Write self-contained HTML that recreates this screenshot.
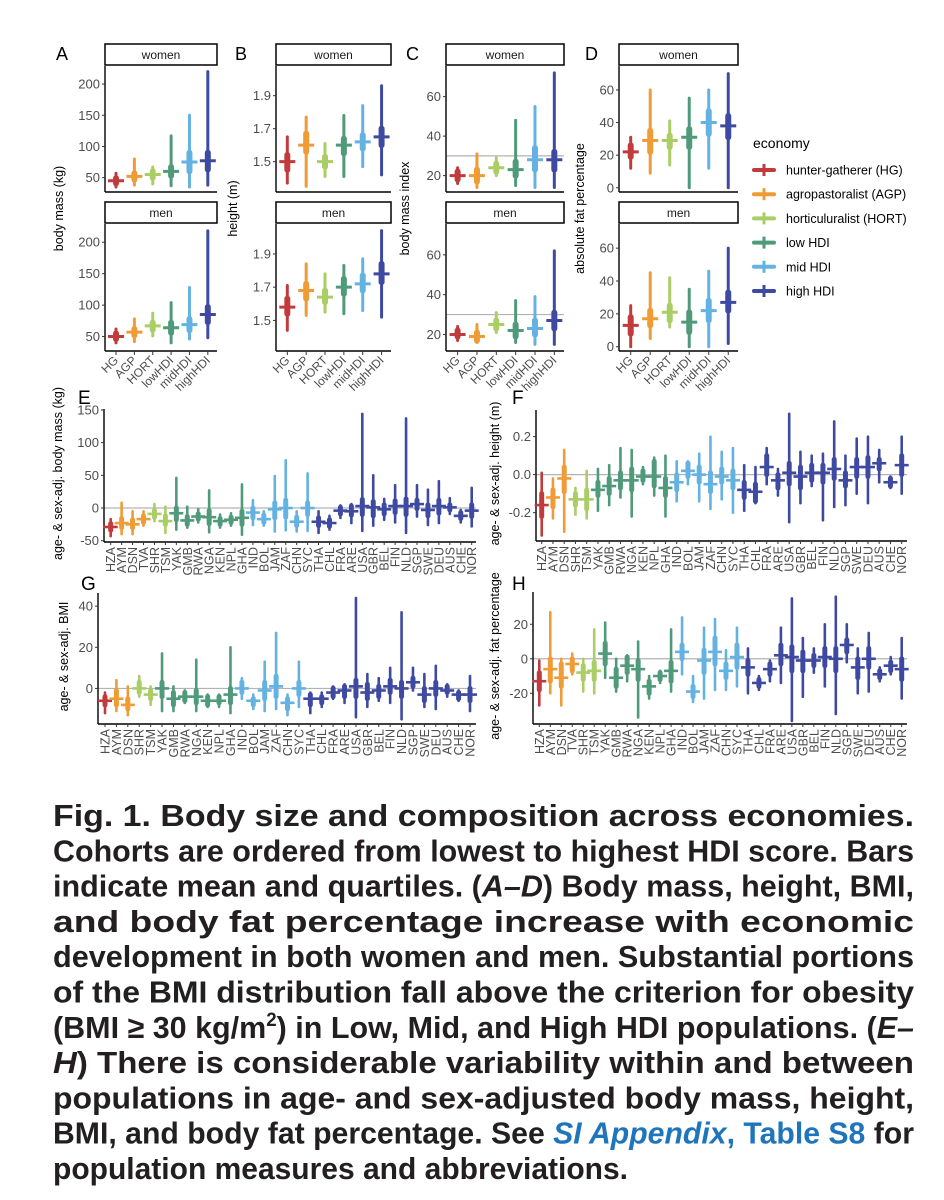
<!DOCTYPE html>
<html><head><meta charset="utf-8">
<style>
body{margin:0;background:#fff;width:944px;height:1200px;overflow:hidden;position:relative;font-family:"Liberation Sans",Arial,sans-serif;}
#fig{position:absolute;left:0;top:0;}
#caption{position:absolute;left:0;top:0;}
</style></head><body>
<svg id="fig" width="944" height="790" xmlns="http://www.w3.org/2000/svg"></svg>
<svg id="caption" width="944" height="1200" xmlns="http://www.w3.org/2000/svg" font-family="Liberation Sans, sans-serif" font-weight="bold" font-size="31" fill="#231f20">
<text x="53" y="826" textLength="861" lengthAdjust="spacingAndGlyphs">Fig. 1. Body size and composition across economies.</text>
<text x="53" y="861.3" textLength="861" lengthAdjust="spacingAndGlyphs">Cohorts are ordered from lowest to highest HDI score. Bars</text>
<text x="53" y="896.6" textLength="861" lengthAdjust="spacingAndGlyphs">indicate mean and quartiles. (<tspan font-style="italic">A–D</tspan>) Body mass, height, BMI,</text>
<text x="53" y="931.9" textLength="861" lengthAdjust="spacingAndGlyphs">and   body   fat   percentage   increase   with   economic</text>
<text x="53" y="967.2" textLength="861" lengthAdjust="spacingAndGlyphs">development in both women and men. Substantial portions</text>
<text x="53" y="1002.5" textLength="861" lengthAdjust="spacingAndGlyphs">of the BMI distribution fall above the criterion for obesity</text>
<text x="53" y="1037.8" textLength="861" lengthAdjust="spacingAndGlyphs">(BMI ≥ 30 kg/m<tspan font-size="19" dy="-12">2</tspan><tspan dy="12">) in Low, Mid, and High HDI populations. (</tspan><tspan font-style="italic">E–</tspan></text>
<text x="53" y="1073.1" textLength="861" lengthAdjust="spacingAndGlyphs"><tspan font-style="italic">H</tspan>) There  is  considerable  variability  within  and  between</text>
<text x="53" y="1108.4" textLength="861" lengthAdjust="spacingAndGlyphs">populations in age- and sex-adjusted body mass, height,</text>
<text x="53" y="1143.7" textLength="861" lengthAdjust="spacingAndGlyphs">BMI, and body fat percentage. See <tspan fill="#1f75bb" font-style="italic">SI Appendix</tspan><tspan fill="#1f75bb">, Table S8</tspan> for</text>
<text x="53" y="1179" textLength="575" lengthAdjust="spacingAndGlyphs">population measures and abbreviations.</text>
</svg>
<script>
// ---------- data ----------
const cohorts = ["HG","AGP","HORT","lowHDI","midHDI","highHDI"];
const economyLabels = ["hunter-gatherer (HG)","agropastoralist (AGP)","horticuluralist (HORT)","low HDI","mid HDI","high HDI"];
// panel A (body mass kg)
const A_w_mean=[45,52,55,60,75,77], A_w_lo=[35,38,40,37,35,38], A_w_hi=[57,80,67,117,150,220], A_w_q1=[41,47,50,53,60,63], A_w_q3=[49,57,60,67,90,90];
const A_m_mean=[50,57,67,64,69,85], A_m_lo=[40,42,51,40,46,48], A_m_hi=[62,78,87,104,128,218], A_m_q1=[46,52,61,56,60,73], A_m_q3=[55,62,72,72,78,97];
// panel B (height m)
const B_w_mean=[1.50,1.60,1.50,1.60,1.62,1.65], B_w_lo=[1.37,1.35,1.41,1.41,1.47,1.42], B_w_hi=[1.65,1.77,1.61,1.78,1.84,1.96], B_w_q1=[1.45,1.56,1.47,1.55,1.58,1.60], B_w_q3=[1.54,1.67,1.53,1.64,1.66,1.70];
const B_m_mean=[1.58,1.68,1.64,1.70,1.72,1.78], B_m_lo=[1.44,1.53,1.55,1.54,1.56,1.52], B_m_hi=[1.71,1.84,1.78,1.83,1.87,2.04], B_m_q1=[1.54,1.63,1.61,1.66,1.68,1.73], B_m_q3=[1.63,1.72,1.68,1.75,1.77,1.84];
// panel C (BMI)
const C_w_mean=[20,20,24,23,28,28], C_w_lo=[16,14,20,15,14,14], C_w_hi=[24,31,29,48,55,72], C_w_q1=[18,17,22,20,23,23], C_w_q3=[22,23,26,27,34,32];
const C_m_mean=[20,19,25,22,23,27], C_m_lo=[17,16,21,16,15,15], C_m_hi=[24,25,31,37,39,62], C_m_q1=[19,17,23,19,20,23], C_m_q3=[22,21,27,25,27,31];
// panel D (fat %)
const D_w_mean=[22,29,29,31,40,38], D_w_lo=[12,9,14,0,12,0], D_w_hi=[31,60,41,55,60,70], D_w_q1=[19,22,25,25,33,31], D_w_q3=[26,35,32,36,47,44];
const D_m_mean=[13,17,21,15,22,27], D_m_lo=[0,5,12,0,0,2], D_m_hi=[25,45,42,35,46,60], D_m_q1=[8,13,16,9,16,22], D_m_q3=[18,22,25,21,28,33];

// panel E
const E_pops=["HZA","AYM","DSN","TVA","SHR","TSM","YAK","GMB","RWA","NGA","KEN","NPL","GHA","IND","BOL","JAM","ZAF","CHN","SYC","THA","CHL","FRA","ARE","USA","GBR","BEL","FIN","NLD","SGP","SWE","DEU","AUS","CHE","NOR"];
const E_econ=[0,1,1,1,2,2,3,3,3,3,3,3,3,4,4,4,4,4,4,5,5,5,5,5,5,5,5,5,5,5,5,5,5,5];
const E_mean=[-29,-23,-25,-17,-9,-20,-8,-19,-13,-14,-20,-18,-15,-7,-17,-2,0,-21,0,-21,-23,-4,-5,3,1,-2,3,3,6,-3,3,1,-12,-4];
const E_lo=[-43,-40,-40,-27,-20,-38,-33,-30,-22,-37,-30,-27,-41,-26,-27,-36,-34,-36,-35,-38,-33,-15,-23,-35,-27,-18,-22,-38,-13,-26,-23,-9,-22,-28];
const E_hi=[-17,8,-5,-5,6,2,46,2,-2,27,-10,-8,36,12,-5,49,73,-5,53,-5,-12,4,6,144,50,14,35,137,35,28,41,15,-3,31];
const E_q1=[-34,-30,-30,-22,-14,-25,-18,-25,-17,-24,-25,-22,-25,-15,-22,-15,-14,-27,-10,-27,-28,-9,-11,-10,-12,-9,-7,-10,-1,-12,-8,-3,-16,-13];
const E_q3=[-24,-16,-18,-12,-4,-12,0,-13,-9,-4,-16,-14,-5,0,-11,8,12,-14,8,-15,-18,1,3,13,10,5,11,14,12,5,12,5,-7,5];
// panel F
const F_pops=["HZA","AYM","DSN","SHR","TSM","YAK","GMB","RWA","NGA","KEN","NPL","GHA","IND","BOL","JAM","ZAF","CHN","SYC","THA","CHL","FRA","ARE","USA","GBR","BEL","FIN","NLD","SGP","SWE","DEU","AUS","CHE","NOR"];
const F_econ=[0,1,1,2,2,3,3,3,3,3,3,3,4,4,4,4,4,4,5,5,5,5,5,5,5,5,5,5,5,5,5,5,5];
const F_mean=[-0.16,-0.12,-0.02,-0.13,-0.13,-0.08,-0.06,-0.03,-0.03,-0.01,-0.01,-0.07,-0.04,0.02,0.00,-0.05,-0.01,-0.03,-0.08,-0.09,0.04,-0.03,0.01,-0.01,0.01,0.01,0.03,-0.03,0.04,0.04,0.06,-0.04,0.05];
const F_lo=[-0.32,-0.23,-0.30,-0.21,-0.23,-0.19,-0.16,-0.12,-0.22,-0.05,-0.11,-0.22,-0.14,-0.05,-0.14,-0.18,-0.13,-0.20,-0.19,-0.15,-0.05,-0.11,-0.25,-0.15,-0.06,-0.24,-0.17,-0.16,-0.10,-0.15,-0.04,-0.07,-0.10];
const F_hi=[0.01,-0.02,0.13,-0.07,0.02,0.03,0.05,0.14,0.13,0.04,0.09,0.10,0.07,0.07,0.11,0.20,0.12,0.14,0.05,0.04,0.14,0.03,0.32,0.12,0.10,0.11,0.28,0.10,0.19,0.20,0.13,-0.01,0.20];
const F_q1=[-0.22,-0.17,-0.09,-0.16,-0.18,-0.11,-0.10,-0.07,-0.08,-0.03,-0.06,-0.11,-0.08,-0.01,-0.04,-0.09,-0.04,-0.07,-0.12,-0.14,0.00,-0.07,-0.05,-0.07,-0.03,-0.04,-0.02,-0.06,-0.01,-0.01,0.03,-0.06,0.00];
const F_q3=[-0.10,-0.08,0.04,-0.10,-0.08,-0.04,-0.02,0.01,0.03,0.02,0.07,-0.02,0.00,0.06,0.04,0.01,0.03,0.02,-0.04,-0.05,0.10,0.00,0.06,0.04,0.05,0.05,0.08,0.01,0.08,0.09,0.08,-0.02,0.10];
// panel G
const G_pops=F_pops;
const G_econ=F_econ;
const G_mean=[-6,-5,-8,0,-3,0,-5,-4,-4,-6,-6,-3,0,-6,-1,1,-7,0,-5,-5,-2,-1,1,-2,-1,1,0,3,-3,0,-1,-3,-3];
const G_lo=[-12,-11,-13,-4,-8,-11,-11,-7,-11,-9,-9,-12,-5,-10,-11,-10,-13,-9,-12,-9,-5,-7,-14,-9,-6,-7,-15,-1,-9,-10,-4,-6,-11];
const G_hi=[-2,4,1,6,1,17,1,-1,14,-3,-3,20,5,-3,13,27,-3,13,-2,-2,1,2,44,7,5,10,37,10,7,11,2,-1,6];
const G_q1=[-8,-8,-10,-2,-5,-4,-8,-6,-7,-8,-7,-7,-2,-8,-5,-4,-10,-3,-8,-7,-4,-4,-4,-5,-4,-2,-4,1,-6,-3,-2,-5,-6];
const G_q3=[-4,-1,-5,3,-1,3,-2,-2,-1,-4,-4,0,3,-5,3,6,-5,3,-3,-4,0,1,4,2,1,4,3,5,0,3,1,-2,0];
// panel H
const H_pops=E_pops;
const H_econ=E_econ;
const H_mean=[-13,-6,-11,-3,-8,-7,3,-11,-4,-6,-16,-10,-7,4,-19,-1,4,-7,1,-5,-14,-6,2,1,-1,-1,1,0,8,-5,0,-9,-4,-6];
const H_lo=[-27,-20,-27,-9,-19,-20,-11,-19,-13,-34,-23,-14,-19,-9,-25,-23,-18,-18,-16,-20,-18,-13,-14,-36,-22,-8,-16,-32,-2,-20,-19,-13,-9,-23];
const H_hi=[-1,27,0,3,0,17,21,0,2,10,-10,-7,17,24,-10,18,23,5,18,6,-10,-1,18,35,12,6,20,36,20,6,15,-5,1,12];
const H_q1=[-18,-13,-16,-7,-12,-12,-3,-16,-8,-12,-20,-12,-13,0,-22,-8,-3,-11,-5,-9,-16,-9,-3,-7,-7,-4,-4,-7,4,-11,-5,-11,-7,-12];
const H_q3=[-8,0,-3,0,-4,-2,9,-6,1,-1,-13,-8,-2,8,-16,5,12,-3,8,-1,-12,-3,8,7,4,2,6,6,11,0,6,-7,-2,0];

const colors=["#c23b3c","#ef9b36","#abcd66","#4f9a7a","#64b2e2","#3e4aa1"];

// ---------- drawing helpers ----------
const svg=document.getElementById('fig');
const NS="http://www.w3.org/2000/svg";
function mk(tag,attrs,parent){const e=document.createElementNS(NS,tag);for(const k in attrs)e.setAttribute(k,attrs[k]);(parent||svg).appendChild(e);return e;}
function txt(s,attrs,parent){const e=mk('text',attrs,parent);e.textContent=s;return e;}
function scaleLinear(d0,d1,r0,r1){return v=>r0+(v-d0)/(d1-d0)*(r1-r0);}

function drawAxes(g,x0,x1,yTop,yBot,ticks,y,fmt){
  mk('line',{x1:x0,y1:yTop,x2:x0,y2:yBot,stroke:'#000','stroke-width':1.4},g);
  mk('line',{x1:x0,y1:yBot,x2:x1,y2:yBot,stroke:'#000','stroke-width':1.4},g);
  ticks.forEach(t=>{const yy=y(t);
    mk('line',{x1:x0-3,y1:yy,x2:x0,y2:yy,stroke:'#333','stroke-width':1},g);
    const l=txt(fmt(t),{x:x0-5,y:yy+4.5,'text-anchor':'end','font-size':13,fill:'#4d4d4d'},g);
    
    
  });
}
function drawMarks(g,xs,y,econ,mean,lo,hi,q1,q3,sz){
  mean.forEach((m,i)=>{
    const c=colors[econ[i]], x=xs(i);
    const grp=mk('g',{},g);
    
    
    mk('line',{x1:x,y1:y(lo[i]),x2:x,y2:y(hi[i]),stroke:c,'stroke-width':sz.thin,'stroke-linecap':'round'},grp);
    mk('line',{x1:x,y1:y(q1[i]),x2:x,y2:y(q3[i]),stroke:c,'stroke-width':sz.thick,'stroke-linecap':'round'},grp);
    mk('line',{x1:x-sz.bar/2,y1:y(m),x2:x+sz.bar/2,y2:y(m),stroke:c,'stroke-width':sz.barW},grp);
  });
}

// ---------- top panels ----------
const topPanels=[
 {L:'A',x0:105,x1:217,dom:[27,229],ticks:[50,100,150,200],fmt:v=>v,title:'body mass (kg)',tx:63,lx:56,
  w:[A_w_mean,A_w_lo,A_w_hi,A_w_q1,A_w_q3],m:[A_m_mean,A_m_lo,A_m_hi,A_m_q1,A_m_q3]},
 {L:'B',x0:276,x1:391,dom:[1.316,2.08],ticks:[1.5,1.7,1.9],fmt:v=>v.toFixed(1),title:'height (m)',tx:237,lx:235,
  w:[B_w_mean,B_w_lo,B_w_hi,B_w_q1,B_w_q3],m:[B_m_mean,B_m_lo,B_m_hi,B_m_q1,B_m_q3]},
 {L:'C',x0:446,x1:564,dom:[11.7,75.5],ticks:[20,40,60],fmt:v=>v,title:'body mass index',tx:409,lx:406,ref:30,
  w:[C_w_mean,C_w_lo,C_w_hi,C_w_q1,C_w_q3],m:[C_m_mean,C_m_lo,C_m_hi,C_m_q1,C_m_q3]},
 {L:'D',x0:619,x1:738,dom:[-2.6,74.7],ticks:[0,20,40,60],fmt:v=>v,title:'absolute fat percentage',tx:584,lx:585,
  w:[D_w_mean,D_w_lo,D_w_hi,D_w_q1,D_w_q3],m:[D_m_mean,D_m_lo,D_m_hi,D_m_q1,D_m_q3]}
];
const facets=[{key:'w',label:'women',sy:44,top:66,bot:192},{key:'m',label:'men',sy:202,top:224,bot:351}];
topPanels.forEach(p=>{
  const g=mk('g',{});
  
  
  const pl=txt(p.L,{x:p.lx,y:60,'font-size':18,fill:'#000'},g);
  
  
  const cy=(facets[0].top+facets[1].bot)/2;
  const yt=txt(p.title,{x:p.tx,y:cy,'font-size':12.5,fill:'#000','text-anchor':'middle',transform:`rotate(-90 ${p.tx} ${cy})`},g);
  
  
  const step=(p.x1-p.x0)/6.1;
  const xs=i=>p.x0+step*0.6+i*step;
  facets.forEach(f=>{
    const fg=mk('g',{},g);
    
    
    mk('rect',{x:p.x0,y:f.sy,width:p.x1-p.x0,height:f.top-f.sy-1,fill:'#fff',stroke:'#000','stroke-width':1.5},fg);
    txt(f.label,{x:(p.x0+p.x1)/2,y:f.sy+15,'text-anchor':'middle','font-size':12,fill:'#1a1a1a'},fg);
    const y=scaleLinear(p.dom[0],p.dom[1],f.bot,f.top);
    if(p.ref!==undefined) mk('line',{x1:p.x0,x2:p.x1,y1:y(p.ref),y2:y(p.ref),stroke:'#b3b3b3','stroke-width':1.2},fg);
    drawAxes(fg,p.x0,p.x1,f.top,f.bot,p.ticks,y,p.fmt);
    const d=p[f.key];
    drawMarks(fg,xs,y,[0,1,2,3,4,5],d[0],d[1],d[2],d[3],d[4],{thin:3,thick:6,bar:16,barW:3});
  });
  cohorts.forEach((c,i)=>{
    const x=xs(i);
    mk('line',{x1:x,y1:351,x2:x,y2:355,stroke:'#333','stroke-width':1},g);
    const l=txt(c,{x:x+3,y:361,'text-anchor':'end','font-size':12,fill:'#4d4d4d',transform:`rotate(-45 ${x+3} 361)`},g);
    
    
  });
});

// legend
const lg=mk('g',{});


txt('economy',{x:753,y:148,'font-size':14,fill:'#000'},lg);
economyLabels.forEach((s,i)=>{
  const yy=170+i*24.2;
  const e=mk('g',{},lg);
  
  
  mk('line',{x1:754,x2:774,y1:yy,y2:yy,stroke:colors[i],'stroke-width':4,'stroke-linecap':'round'},e);
  mk('line',{x1:764,x2:764,y1:yy-6,y2:yy+6,stroke:colors[i],'stroke-width':3},e);
  txt(s,{x:786,y:yy+4.5,'font-size':12.5,fill:'#000'},e);
});

// ---------- bottom panels ----------
const botPanels=[
 {L:'E',lx:78,ly:404,x0:104,x1:476,top:409,bot:542,first:110.7,last:471.7,dom:[-52,151.5],ticks:[-50,0,50,100,150],fmt:v=>v,
  title:'age- & sex-adj. body mass (kg)',tx:62,pops:E_pops,econ:E_econ,d:[E_mean,E_lo,E_hi,E_q1,E_q3]},
 {L:'F',lx:512,ly:404,x0:536,x1:907,top:410,bot:541,first:541.7,last:901.7,dom:[-0.349,0.34],ticks:[-0.2,0,0.2],fmt:v=>v.toFixed(1),
  title:'age- & sex-adj. height (m)',tx:499,pops:F_pops,econ:F_econ,d:[F_mean,F_lo,F_hi,F_q1,F_q3]},
 {L:'G',lx:81,ly:590,x0:98,x1:476,top:593,bot:724,first:105,last:470,dom:[-17.3,46.4],ticks:[0,20,40],fmt:v=>v,
  title:'age- & sex-adj. BMI',tx:68,pops:G_pops,econ:G_econ,d:[G_mean,G_lo,G_hi,G_q1,G_q3]},
 {L:'H',lx:512,ly:590,x0:533,x1:907,top:592,bot:724,first:539.3,last:901.7,dom:[-37.8,38.7],ticks:[-20,0,20],fmt:v=>v,
  title:'age- & sex-adj. fat percentage',tx:499,pops:H_pops,econ:H_econ,d:[H_mean,H_lo,H_hi,H_q1,H_q3]}
];
botPanels.forEach(p=>{
  const g=mk('g',{});
  
  
  const pl=txt(p.L,{x:p.lx,y:p.ly,'font-size':19,fill:'#000'},g);
  
  
  const cy=(p.top+p.bot)/2-2;
  const yt=txt(p.title,{x:p.tx,y:cy,'font-size':12.5,fill:'#000','text-anchor':'middle',transform:`rotate(-90 ${p.tx} ${cy})`},g);
  
  
  const y=scaleLinear(p.dom[0],p.dom[1],p.bot,p.top);
  const n=p.pops.length, step=(p.last-p.first)/(n-1);
  const xs=i=>p.first+i*step;
  mk('line',{x1:p.x0,x2:p.x1,y1:y(0),y2:y(0),stroke:'#b3b3b3','stroke-width':1.2},g);
  drawAxes(g,p.x0,p.x1,p.top,p.bot,p.ticks,y,p.fmt);
  drawMarks(g,xs,y,p.econ,p.d[0],p.d[1],p.d[2],p.d[3],p.d[4],{thin:2.6,thick:5,bar:14,barW:2.6});
  p.pops.forEach((s,i)=>{
    const x=xs(i);
    mk('line',{x1:x,y1:p.bot,x2:x,y2:p.bot+3,stroke:'#333','stroke-width':1},g);
    const l=txt(s,{x:x+4.5,y:p.bot+5,'text-anchor':'end','font-size':12.5,fill:'#4d4d4d',transform:`rotate(-90 ${x+4.5} ${p.bot+5})`},g);
    
    
  });
});
</script>
</body></html>
